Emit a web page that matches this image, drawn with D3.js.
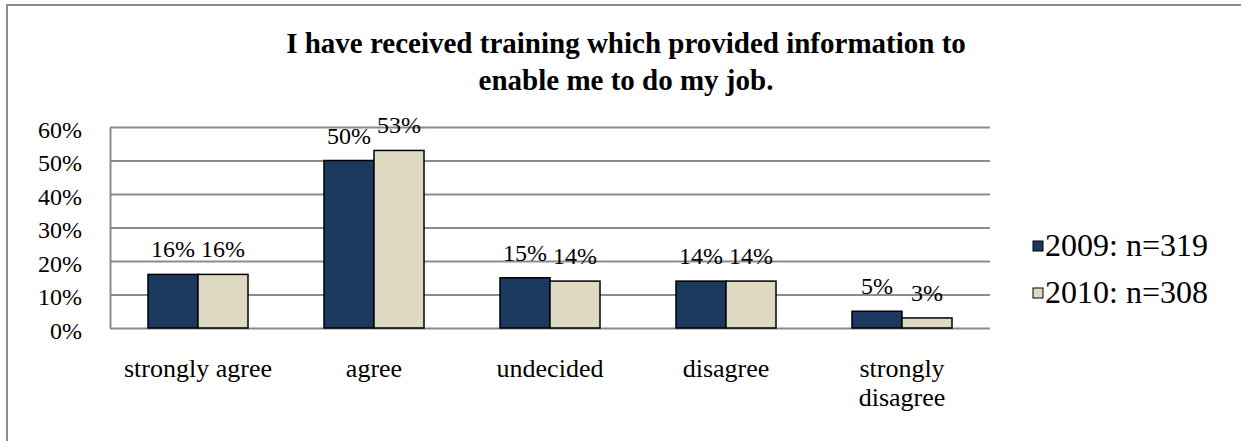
<!DOCTYPE html>
<html>
<head>
<meta charset="utf-8">
<script src="https://cdn.jsdelivr.net/npm/d3@7"></script>
<style>
  body { margin: 0; background: #fff; }
  svg text { font-family: "Liberation Serif", "Times New Roman", serif; fill: #000; }
</style>
</head>
<body>
<div id="chart"></div>
<script>
var categories = ["strongly agree", "agree", "undecided", "disagree", "strongly disagree"];
var seriesNames = ["2009: n=319", "2010: n=308"];
var values2009 = [0.16, 0.50, 0.15, 0.14, 0.05];
var values2010 = [0.16, 0.53, 0.14, 0.14, 0.03];
var yTicks = [0, 0.1, 0.2, 0.3, 0.4, 0.5, 0.6];
var titleLines = ["I have received training which provided information to", "enable me to do my job."];

var colors = ["#1b385e", "#ddd9c3"];

var w = 1241,
    h = 441,
    mleft = 110,
    mtop = 127,
    pw = 880,
    ph = 201;

var svg = d3.select("#chart")
  .append("svg")
  .attr("width", w)
  .attr("height", h);

// outer chart frame
svg.append("rect")
  .attr("x", 7).attr("y", 5)
  .attr("width", 1260).attr("height", 460)
  .attr("fill", "none")
  .attr("stroke", "#8c8c8c")
  .attr("stroke-width", 2);

// title
svg.append("text")
  .attr("text-anchor", "middle")
  .style("font-size", "29px")
  .style("font-weight", "bold")
  .selectAll("tspan")
  .data(titleLines)
  .enter()
  .append("tspan")
  .attr("x", 626)
  .attr("y", function(d, i) { return 53 + i * 37; })
  .text(function(d) { return d; });

var g = svg.append("g")
  .attr("transform", "translate(" + mleft + "," + mtop + ")");

var y = d3.scaleLinear()
  .domain([0, 0.6])
  .range([ph, 0]);

var x0 = d3.scaleBand()
  .domain(categories)
  .range([0, pw]);

var x1 = d3.scaleBand()
  .domain(seriesNames)
  .range([0, x0.bandwidth()])
  .paddingOuter(0.76);

var yAxis = d3.axisLeft(y)
  .tickValues(yTicks)
  .tickFormat(d3.format(".0%"))
  .tickSize(-pw)
  .tickSizeOuter(0)
  .tickPadding(28);

var ya = g.append("g")
  .attr("class", "y axis")
  .call(yAxis);
ya.select(".domain").attr("stroke", "#8c8c8c").attr("stroke-width", 2);
ya.selectAll(".tick line").attr("stroke", "#8c8c8c").attr("stroke-width", 2);
ya.selectAll(".tick text")
  .attr("dy", "0.42em")
  .style("font-size", "24px");

var xAxis = d3.axisBottom(x0)
  .tickSize(0)
  .tickPadding(0);

var xa = g.append("g")
  .attr("class", "x axis")
  .attr("transform", "translate(0," + ph + ")")
  .call(xAxis);
xa.select(".domain").remove();
xa.selectAll(".tick text")
  .style("font-size", "26px")
  .attr("dy", null)
  .attr("y", 49)
  .call(wrap, 160);

var data = categories.map(function(c, i) {
  return { cat: c, vals: [values2009[i], values2010[i]] };
});

var groups = g.selectAll(".cat")
  .data(data)
  .enter()
  .append("g")
  .attr("class", "cat")
  .attr("transform", function(d) { return "translate(" + x0(d.cat) + ",0)"; });

groups.selectAll("rect")
  .data(function(d) { return d.vals.map(function(v, j) { return { s: seriesNames[j], v: v, j: j }; }); })
  .enter()
  .append("rect")
  .attr("x", function(d) { return x1(d.s); })
  .attr("y", function(d) { return y(d.v); })
  .attr("width", x1.bandwidth())
  .attr("height", function(d) { return ph - y(d.v); })
  .attr("fill", function(d) { return colors[d.j]; })
  .attr("stroke", "#000")
  .attr("stroke-width", 1.5);

groups.selectAll(".lbl")
  .data(function(d) { return d.vals.map(function(v, j) { return { s: seriesNames[j], v: v }; }); })
  .enter()
  .append("text")
  .attr("class", "lbl")
  .attr("text-anchor", "middle")
  .style("font-size", "24px")
  .attr("x", function(d) { return x1(d.s) + x1.bandwidth() / 2; })
  .attr("y", function(d) { return y(d.v) - 17; })
  .text(function(d) { return d3.format(".0%")(d.v); });

// legend
var legend = svg.selectAll(".legend")
  .data(seriesNames)
  .enter()
  .append("g")
  .attr("class", "legend")
  .attr("transform", function(d, i) { return "translate(1033," + (241 + i * 47) + ")"; });

legend.append("rect")
  .attr("width", 10).attr("height", 10)
  .attr("fill", function(d, i) { return colors[i]; })
  .attr("stroke", "#000")
  .attr("stroke-width", 1);

legend.append("text")
  .attr("x", 12)
  .attr("y", 15)
  .style("font-size", "32px")
  .text(function(d) { return d; });

function wrap(text, width) {
  text.each(function() {
    var t = d3.select(this),
        words = t.text().split(/\s+/),
        line = [],
        lines = [];
    t.text(null);
    var probe = t.append("tspan");
    words.forEach(function(wd) {
      line.push(wd);
      probe.text(line.join(" "));
      if (probe.node().getComputedTextLength() > width && line.length > 1) {
        line.pop();
        lines.push(line.join(" "));
        line = [wd];
      }
    });
    lines.push(line.join(" "));
    probe.remove();
    var yy = +t.attr("y");
    lines.forEach(function(l, k) {
      t.append("tspan").attr("x", 0).attr("y", yy + k * 29).text(l);
    });
  });
}
</script>
</body>
</html>
